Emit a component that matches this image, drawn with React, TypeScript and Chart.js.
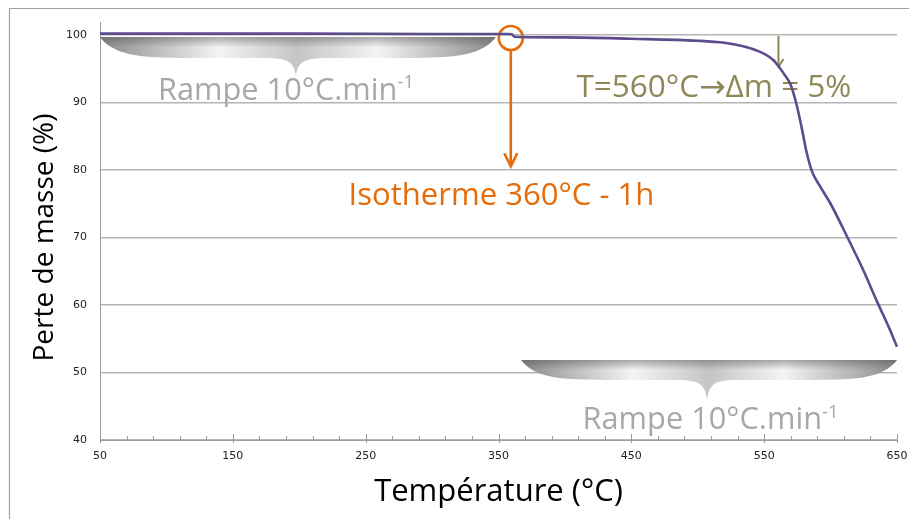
import React, { useEffect, useRef } from "react";
import { Chart, registerables } from "chart.js";

Chart.register(...registerables);

// ---- data ----
const temperatures = [50, 100, 200, 300, 357, 360, 362, 400, 450, 500, 520, 535, 547, 555, 560, 565, 570, 574, 578, 582, 586, 592, 600, 612, 625, 635, 645, 650];
const masses = [100.2, 100.2, 100.2, 100.15, 100.15, 100.1, 99.75, 99.65, 99.45, 99.15, 98.85, 98.3, 97.5, 96.6, 95.6, 94.2, 92.6, 90.0, 86.5, 82.6, 79.8, 77.6, 75.0, 70.3, 65.0, 60.5, 56.2, 53.8];
const xTickValues = [50, 150, 250, 350, 450, 550, 650];
const yTickValues = [40, 50, 60, 70, 80, 90, 100];
const xMinorStep = 20;

const xTitle = "Température (°C)";
const yTitle = "Perte de masse (%)";
const rampeMain = "Rampe 10°C.min";
const rampeSup = "-1";
const isoText = "Isotherme 360°C - 1h";
const tTextParts = ["T=560°C", "→", "Δm = 5%"];

// annotation anchors (data coordinates)
const isoPoint = { t: 360, m: 100 };
const tPoint = { t: 560, m: 100 };

const PURPLE = "#5E4B8B";
const ORANGE = "#E46C0A";
const OLIVE = "#8E8757";
const GREYTXT = "#a8a8a8";
const GRID = "#b4b4b4";
const FONT = "'Open Sans', 'Noto Sans', sans-serif";
const ARROWFONT = "'DejaVu Sans', sans-serif";

function drawBrace(ctx: CanvasRenderingContext2D, x0: number, x1: number, yTop: number, yBand: number, xTip: number, yTip: number) {
  const w = x1 - x0;
  ctx.save();
  ctx.beginPath();
  ctx.moveTo(x0, yTop);
  ctx.lineTo(x1, yTop);
  ctx.bezierCurveTo(x1 - 0.04 * w, yBand, x1 - 0.12 * w, yBand, x1 - 0.25 * w, yBand);
  ctx.lineTo(xTip + 0.08 * w, yBand);
  ctx.bezierCurveTo(xTip + 0.02 * w, yBand, xTip + 2, yBand + 4, xTip, yTip);
  ctx.bezierCurveTo(xTip - 2, yBand + 4, xTip - 0.02 * w, yBand, xTip - 0.08 * w, yBand);
  ctx.lineTo(x0 + 0.25 * w, yBand);
  ctx.bezierCurveTo(x0 + 0.12 * w, yBand, x0 + 0.04 * w, yBand, x0, yTop);
  ctx.closePath();
  const g = ctx.createLinearGradient(x0, 0, x1, 0);
  g.addColorStop(0, "#8a8a8a");
  g.addColorStop(0.3, "#f4f4f4");
  g.addColorStop(0.5, "#c4c4c4");
  g.addColorStop(0.7, "#f4f4f4");
  g.addColorStop(1, "#8a8a8a");
  ctx.fillStyle = g;
  ctx.fill();
  const v = ctx.createLinearGradient(0, yTop, 0, yBand);
  v.addColorStop(0, "rgba(80,80,80,0.45)");
  v.addColorStop(0.5, "rgba(80,80,80,0.0)");
  v.addColorStop(1, "rgba(80,80,80,0.0)");
  ctx.fillStyle = v;
  ctx.fill();
  ctx.restore();
}

function drawFitText(ctx: CanvasRenderingContext2D, text: string, cx: number, base: number, target: number, color: string) {
  ctx.save();
  ctx.font = `100px ${FONT}`;
  const size = (100 * target) / ctx.measureText(text).width;
  ctx.font = `${size}px ${FONT}`;
  ctx.fillStyle = color;
  ctx.textAlign = "center";
  ctx.textBaseline = "alphabetic";
  ctx.fillText(text, cx, base);
  ctx.restore();
}

function drawPartsText(ctx: CanvasRenderingContext2D, parts: string[], fonts: string[], cx: number, base: number, target: number, color: string) {
  ctx.save();
  let total = 0;
  parts.forEach((p, i) => {
    ctx.font = `100px ${fonts[i]}`;
    total += ctx.measureText(p).width;
  });
  const size = (100 * target) / total;
  let left = cx - target / 2;
  ctx.fillStyle = color;
  ctx.textAlign = "left";
  ctx.textBaseline = "alphabetic";
  parts.forEach((p, i) => {
    ctx.font = `${size}px ${fonts[i]}`;
    ctx.fillText(p, left, base);
    left += ctx.measureText(p).width;
  });
  ctx.restore();
}

function drawRampe(ctx: CanvasRenderingContext2D, cx: number, base: number, target: number) {
  ctx.save();
  ctx.font = `100px ${FONT}`;
  const wm = ctx.measureText(rampeMain).width;
  ctx.font = `60px ${FONT}`;
  const ws = ctx.measureText(rampeSup).width;
  const size = (100 * target) / (wm + ws);
  ctx.font = `${size}px ${FONT}`;
  const mainW = ctx.measureText(rampeMain).width;
  ctx.font = `${size * 0.6}px ${FONT}`;
  const supW = ctx.measureText(rampeSup).width;
  const left = cx - (mainW + supW) / 2;
  ctx.fillStyle = GREYTXT;
  ctx.textAlign = "left";
  ctx.textBaseline = "alphabetic";
  ctx.font = `${size}px ${FONT}`;
  ctx.fillText(rampeMain, left, base);
  ctx.font = `${size * 0.6}px ${FONT}`;
  ctx.fillText(rampeSup, left + mainW, base - size * 0.38);
  ctx.restore();
}

const annotPlugin = {
  id: "annot",
  beforeDatasetsDraw(chart: any) {
    const { ctx, scales } = chart;
    const x = scales.x;
    const y = scales.y;
    const area = chart.chartArea;

    // x-axis tick marks (major cross the axis, minor above it)
    ctx.save();
    ctx.strokeStyle = "#9a9a9a";
    ctx.lineWidth = 1;
    for (let t = x.min; t <= x.max + 0.001; t += xMinorStep) {
      const px = Math.round(x.getPixelForValue(t)) + 0.5;
      const major = xTickValues.includes(t);
      ctx.beginPath();
      ctx.moveTo(px, area.bottom - (major ? 6 : 4));
      ctx.lineTo(px, area.bottom + (major ? 3 : 0));
      ctx.stroke();
    }
    // y axis extension above the plot
    ctx.beginPath();
    ctx.moveTo(area.left + 0.5, area.top - 13);
    ctx.lineTo(area.left + 0.5, area.top);
    ctx.stroke();
    ctx.restore();

    // braces
    drawBrace(ctx, x.getPixelForValue(50), x.getPixelForValue(348), y.getPixelForValue(99.7), y.getPixelForValue(96.6), x.getPixelForValue(197.5), y.getPixelForValue(94.0));
    drawBrace(ctx, x.getPixelForValue(367), x.getPixelForValue(650), y.getPixelForValue(51.85), y.getPixelForValue(48.9), x.getPixelForValue(507), y.getPixelForValue(45.9));

    // Rampe labels
    drawRampe(ctx, x.getPixelForValue(190), y.getPixelForValue(90.37), 256);
    drawRampe(ctx, x.getPixelForValue(509.6), y.getPixelForValue(41.6), 256);

    // orange isotherm annotation
    const cx = x.getPixelForValue(isoPoint.t) - 1;
    const cy = y.getPixelForValue(isoPoint.m) + 3;
    ctx.save();
    ctx.strokeStyle = ORANGE;
    ctx.lineWidth = 2.6;
    ctx.beginPath();
    ctx.arc(cx, cy, 12, 0, Math.PI * 2);
    ctx.stroke();
    const tipY = y.getPixelForValue(80.55);
    ctx.beginPath();
    ctx.moveTo(cx, cy + 12);
    ctx.lineTo(cx, tipY);
    ctx.stroke();
    ctx.beginPath();
    ctx.moveTo(cx - 6.5, tipY - 13);
    ctx.lineTo(cx, tipY);
    ctx.lineTo(cx + 6.5, tipY - 13);
    ctx.stroke();
    ctx.restore();
    drawFitText(ctx, isoText, x.getPixelForValue(352.2), y.getPixelForValue(74.8), 306, ORANGE);

    // olive T=560 annotation
    const ox = x.getPixelForValue(tPoint.t) + 1;
    const oy0 = y.getPixelForValue(tPoint.m) + 1;
    const oy1 = y.getPixelForValue(95.25);
    ctx.save();
    ctx.strokeStyle = OLIVE;
    ctx.lineWidth = 2;
    ctx.beginPath();
    ctx.moveTo(ox, oy0);
    ctx.lineTo(ox, oy1);
    ctx.stroke();
    ctx.beginPath();
    ctx.moveTo(ox - 5, oy1 - 8);
    ctx.lineTo(ox, oy1);
    ctx.lineTo(ox + 5, oy1 - 8);
    ctx.stroke();
    ctx.restore();
    drawPartsText(ctx, tTextParts, [FONT, ARROWFONT, FONT], x.getPixelForValue(512.2), y.getPixelForValue(90.86), 275, OLIVE);
  },
  afterDraw(chart: any) {
    const { ctx } = chart;
    ctx.save();
    ctx.strokeStyle = "#a0a0a0";
    ctx.lineWidth = 1.2;
    ctx.beginPath();
    ctx.moveTo(9.5, chart.height);
    ctx.lineTo(9.5, 8.5);
    ctx.lineTo(chart.width, 8.5);
    ctx.stroke();
    ctx.restore();
  },
};

export default function App() {
  const ref = useRef<HTMLCanvasElement | null>(null);
  useEffect(() => {
    document.body.style.margin = "0";
    const canvas = ref.current!;
    const chart = new Chart(canvas, {
      type: "line",
      data: {
        datasets: [
          {
            data: temperatures.map((t, i) => ({ x: t, y: masses[i] })),
            borderColor: PURPLE,
            borderWidth: 2.6,
            pointRadius: 0,
            fill: false,
            clip: false,
            cubicInterpolationMode: "monotone",
          },
        ],
      },
      options: {
        animation: false,
        responsive: false,
        devicePixelRatio: 1,
        layout: { padding: { top: 35, right: 12, left: 0, bottom: 0 } },
        plugins: { legend: { display: false }, tooltip: { enabled: false } },
        scales: {
          x: {
            type: "linear",
            min: 50,
            max: 650,
            afterBuildTicks: (s: any) => {
              s.ticks = xTickValues.map((v) => ({ value: v }));
            },
            afterFit: (s: any) => {
              s.height = 79;
              s.paddingLeft = 0;
              s.paddingRight = 0;
            },
            grid: { display: false, drawTicks: false },
            border: { display: true, color: "#9a9a9a", width: 1 },
            ticks: { padding: 10, color: "#222", font: { family: "'DejaVu Sans', sans-serif", size: 11 }, maxRotation: 0, autoSkip: false },
            title: { display: true, text: xTitle, color: "#000", font: { family: FONT, size: 31 }, padding: { top: 0, bottom: 8 } },
          },
          y: {
            type: "linear",
            min: 40,
            max: 100,
            afterBuildTicks: (s: any) => {
              s.ticks = yTickValues.map((v) => ({ value: v }));
            },
            afterFit: (s: any) => {
              s.width = 100;
              s.paddingTop = 0;
              s.paddingBottom = 0;
            },
            grid: { display: true, color: GRID, lineWidth: 1.4, drawTicks: false },
            border: { display: true, color: "#9a9a9a", width: 1 },
            ticks: { padding: 13, color: "#222", font: { family: "'DejaVu Sans', sans-serif", size: 11 } },
            title: { display: true, text: yTitle, color: "#000", font: { family: FONT, size: 28 }, padding: { top: 28, bottom: 0 } },
          },
        },
      },
      plugins: [annotPlugin],
    } as any);
    return () => chart.destroy();
  }, []);
  return (
    <div style={{ position: "fixed", left: 0, top: 0, width: 909, height: 519, background: "#fff" }}>
      <canvas ref={ref} width={909} height={519} style={{ display: "block" }} />
    </div>
  );
}
